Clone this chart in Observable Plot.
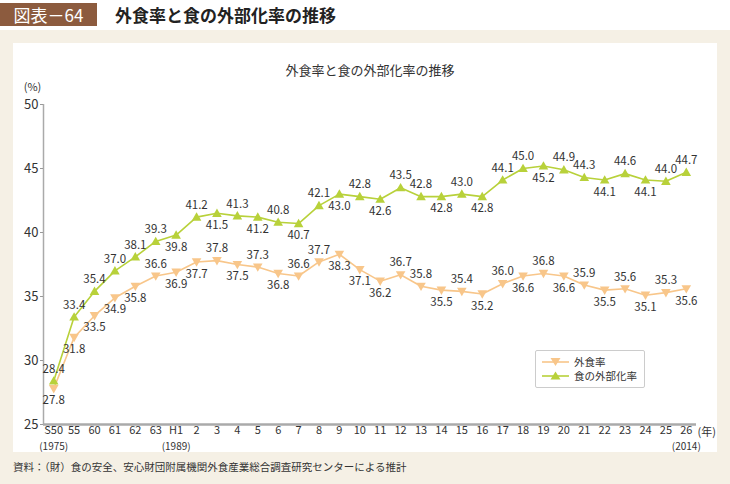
<!DOCTYPE html>
<html><head><meta charset="utf-8">
<script src="https://cdn.jsdelivr.net/npm/d3@7"></script>
<script src="https://cdn.jsdelivr.net/npm/@observablehq/plot@0.6"></script>
<style>
body{margin:0;width:730px;height:484px;background:#fff;font-family:"Noto Sans CJK JP",sans-serif;position:relative;overflow:hidden}
#badge{position:absolute;left:0;top:3px;width:97px;height:23px;background:#8c5b3e;color:#fff;font-size:17px;line-height:23px;text-align:center}
#title{position:absolute;left:115px;top:3px;height:23px;line-height:23px;font-size:17px;font-weight:bold;color:#222}
#bg{position:absolute;left:0;top:30px;width:730px;height:454px;background:#f5f0e5}
#panel{position:absolute;left:13px;top:43px;width:704px;height:409px;background:#fff}
#note{position:absolute;left:13px;top:459px;font-size:10.5px;color:#333;white-space:nowrap}
#legend{position:absolute;left:535px;top:350px;width:108px;height:36px;border:1px solid #ccc;border-radius:2px;background:#fff}
#legend svg{display:block}
</style></head>
<body>
<div id="badge">図表－64</div>
<div id="title">外食率と食の外部化率の推移</div>
<div id="bg"></div>
<div id="panel"></div>
<div id="legend"></div>
<div id="note">資料：（財）食の安全、安心財団附属機関外食産業総合調査研究センターによる推計</div>
<script>
// ---- data ----
const categories = ["S50","55","60","61","62","63","H1","2","3","4","5","6","7","8","9","10","11","12","13","14","15","16","17","18","19","20","21","22","23","24","25","26"];
const eatingOutRate = [27.8,31.8,33.5,34.9,35.8,36.6,36.9,37.7,37.8,37.5,37.3,36.8,36.6,37.7,38.3,37.1,36.2,36.7,35.8,35.5,35.4,35.2,36.0,36.6,36.8,36.6,35.9,35.5,35.6,35.1,35.3,35.6];
const externalizationRate = [28.4,33.4,35.4,37.0,38.1,39.3,39.8,41.2,41.5,41.3,41.2,40.8,40.7,42.1,43.0,42.8,42.6,43.5,42.8,42.8,43.0,42.8,44.1,45.0,45.2,44.9,44.3,44.1,44.6,44.1,44.0,44.7];
// label placement: a = above, b = below
const eatingOutLabelPos = ["b","b","b","b","b","a","b","b","a","b","a","b","a","a","b","b","b","a","a","b","a","b","a","b","a","b","a","b","a","b","a","b"];
const externalizationLabelPos = ["a","a","a","a","a","a","b","a","b","a","b","a","b","a","b","a","b","a","a","b","a","b","a","a","b","a","a","b","a","b","a","a"];
const yTicks = [25,30,35,40,45,50];
const seriesNames = ["外食率","食の外部化率"];
const yearNotes = [{i:0, t:"(1975)"},{i:6, t:"(1989)"},{i:31, t:"(2014)"}];

const ORANGE = "#f8c68a", GREEN = "#b8d13a";
const triUp = {draw(ctx){ctx.moveTo(0,-4.8);ctx.lineTo(4.8,3.6);ctx.lineTo(-4.8,3.6);ctx.closePath();}};
const triDown = {draw(ctx){ctx.moveTo(0,4.8);ctx.lineTo(4.8,-3.6);ctx.lineTo(-4.8,-3.6);ctx.closePath();}};

const rows = [];
categories.forEach((c,i)=>{
  rows.push({series:seriesNames[0], i, v:eatingOutRate[i], pos:eatingOutLabelPos[i]});
  rows.push({series:seriesNames[1], i, v:externalizationRate[i], pos:externalizationLabelPos[i]});
});
const out = rows.filter(d=>d.series===seriesNames[0]);
const ext = rows.filter(d=>d.series===seriesNames[1]);
const fmt = d => d.v.toFixed(1);
const lab = {x: "i", y: "v", text: fmt, fontSize: 11.5, fill: "#333"};

const chart = Plot.plot({
  width: 704, height: 409,
  marginLeft: 30, marginRight: 21, marginTop: 61, marginBottom: 28,
  style: {fontFamily: '"Noto Sans CJK JP", sans-serif', background: "transparent", color: "#333"},
  x: {domain: [-0.5, 31.5]},
  y: {domain: [25, 50]},
  marks: [
    Plot.ruleY([25], {stroke: "#aaa", strokeWidth: 2.5}),
    Plot.ruleX([-0.5], {stroke: "#aaa", strokeWidth: 1.5}),
    Plot.axisY({ticks: yTicks, tickSize: 3, tickPadding: 2, fontSize: 13, stroke: "#999", fill: "#333", label: null}),
    Plot.axisX({ticks: d3.range(categories.length), tickFormat: d => categories[d], tickSize: 0, tickPadding: 2, fontSize: 11, fill: "#333", label: null}),
    Plot.line(out, {x: "i", y: "v", stroke: ORANGE, strokeWidth: 1.6}),
    Plot.line(ext, {x: "i", y: "v", stroke: GREEN, strokeWidth: 1.6}),
    Plot.dot(out, {x: "i", y: "v", symbol: triDown, fill: ORANGE, r: 5}),
    Plot.dot(ext, {x: "i", y: "v", symbol: triUp, fill: GREEN, r: 5}),
    Plot.text(out, {...lab, filter: d=>d.pos==="a", dy: -12}),
    Plot.text(out, {...lab, filter: d=>d.pos==="b", dy: 12}),
    Plot.text(ext, {...lab, filter: d=>d.pos==="a", dy: -12}),
    Plot.text(ext, {...lab, filter: d=>d.pos==="b", dy: 12}),
    Plot.text(yearNotes, {x: "i", text: "t", frameAnchor: "bottom", lineAnchor: "middle", textAnchor: "middle", dy: 22.5, fontSize: 10, fill: "#333"}),
    Plot.text(["(年)"], {frameAnchor: "bottom-right", lineAnchor: "middle", textAnchor: "start", dx: 1, dy: 8, fontSize: 11, fill: "#333"}),
    Plot.text(["(%)"], {frameAnchor: "top-left", lineAnchor: "middle", textAnchor: "middle", dx: -11, dy: -17, fontSize: 11, fill: "#333"}),
    Plot.text(["外食率と食の外部化率の推移"], {frameAnchor: "top", lineAnchor: "middle", textAnchor: "middle", dy: -34, fontSize: 13, fill: "#333"})
  ]
});
document.getElementById("panel").appendChild(chart);

// legend (drawn as a small svg)
const lgItems = [[seriesNames[0], ORANGE, "M5,-4 L-5,-4 L0,4 Z"], [seriesNames[1], GREEN, "M0,-4.5 L5,3.5 L-5,3.5 Z"]];
document.getElementById("legend").innerHTML =
  `<svg width="108" height="36" style="font-family:'Noto Sans CJK JP',sans-serif">` +
  lgItems.map(([name,col,path],k)=>{
    const cy = k===0 ? 11 : 25;
    return `<line x1="6" x2="33" y1="${cy}" y2="${cy}" stroke="${col}" stroke-width="1.6"/>` +
           `<path transform="translate(19.5,${cy})" d="${path}" fill="${col}"/>` +
           `<text x="38" y="${cy}" dy="0.35em" font-size="10.5" fill="#333">${name}</text>`;
  }).join("") + `</svg>`;
</script>
</body></html>
